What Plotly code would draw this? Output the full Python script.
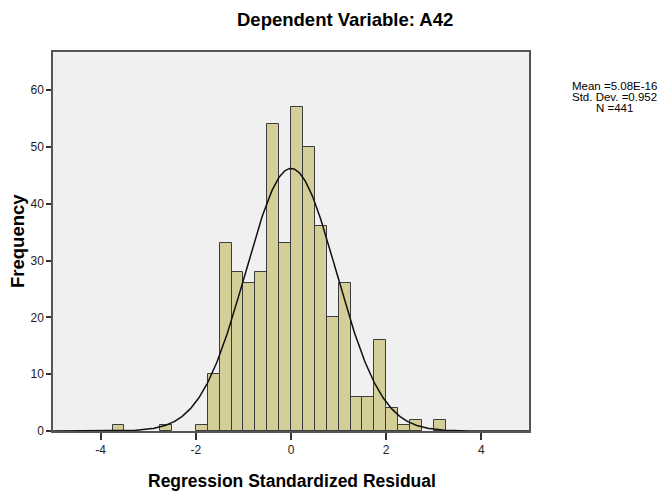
import numpy as np
import plotly.graph_objects as go

# Histogram bins (left edges, width 0.25) and counts
bin_left = [-3.75, -2.75, -2.0, -1.75, -1.5, -1.25, -1.0, -0.75, -0.5, -0.25,
            0.0, 0.25, 0.5, 0.75, 1.0, 1.25, 1.5, 1.75, 2.0, 2.25, 2.5, 3.0]
counts = [1, 1, 1, 10, 33, 28, 26, 28, 54, 33,
          57, 50, 36, 20, 26, 6, 6, 16, 4, 1, 2, 2]
bin_width = 0.25

mean_val = 5.08e-16
std_val = 0.952
n_val = 441
stats_lines = ["Mean =5.08E-16", "Std. Dev. =0.952", f"N ={n_val}"]

x_ticks = [-4, -2, 0, 2, 4]
y_ticks = [0, 10, 20, 30, 40, 50, 60]

centers = [b + bin_width / 2 for b in bin_left]

# Normal curve from the stated statistics
xc = np.linspace(-5, 5, 400)
yc = n_val * bin_width * np.exp(-0.5 * ((xc - mean_val) / std_val) ** 2) / (std_val * np.sqrt(2 * np.pi))

fig = go.Figure()
fig.add_trace(go.Bar(
    x=centers, y=counts, width=bin_width,
    marker=dict(color="#d4cf98", line=dict(color="#3c3c3c", width=1)),
    showlegend=False, hoverinfo="skip"))
fig.add_trace(go.Scatter(
    x=xc, y=yc, mode="lines", line=dict(color="#111111", width=1.5),
    showlegend=False, hoverinfo="skip"))

font_family = "Liberation Sans, Arial, sans-serif"

L, R, T, B = 53, 529, 52, 431
PW, PH = R - L, B - T

annotations = [
    dict(text="<b>Dependent Variable: A42</b>", xref="paper", yref="paper",
         x=(345 - L) / PW, y=1 + (T - 19) / PH, xanchor="center", yanchor="middle",
         showarrow=False, font=dict(size=18.5, color="#000000", family=font_family)),
    dict(text="<b>Regression Standardized Residual</b>", xref="paper", yref="paper",
         x=(292 - L) / PW, y=-(481 - B) / PH, xanchor="center", yanchor="middle",
         showarrow=False, font=dict(size=17.5, color="#000000", family=font_family)),
    dict(text="<b>Frequency</b>", xref="paper", yref="paper",
         x=-(L - 17) / PW, y=(B - 241) / PH, xanchor="center", yanchor="middle",
         textangle=-90, showarrow=False,
         font=dict(size=18.5, color="#000000", family=font_family)),
]
for i, line in enumerate(stats_lines):
    annotations.append(dict(
        text=line, xref="paper", yref="paper",
        x=1 + (614 - R) / PW, y=(B - (86 + 11 * i)) / PH,
        xanchor="center", yanchor="middle", showarrow=False,
        font=dict(size=11.5, color="#000000", family=font_family)))

fig.update_layout(
    width=658, height=493,
    margin=dict(l=L, r=658 - R, t=T, b=493 - B),
    paper_bgcolor="white", plot_bgcolor="#f0f0f0",
    font=dict(family=font_family, size=12, color="#222222"),
    bargap=0,
    xaxis=dict(range=[-5, 5], tickvals=x_ticks, ticktext=[str(v) for v in x_ticks],
               showgrid=False, zeroline=False, showline=True, mirror=True,
               linecolor="#555555", linewidth=1.5,
               ticks="outside", ticklen=7, tickcolor="#333333", tickwidth=1.5,
               tickfont=dict(size=12, color="#222222")),
    yaxis=dict(range=[0, 66.7], tickvals=y_ticks, ticktext=[str(v) for v in y_ticks],
               showgrid=False, zeroline=False, showline=True, mirror=True,
               linecolor="#555555", linewidth=1.5,
               ticks="outside", ticklen=5, tickcolor="#333333", tickwidth=1.5,
               tickfont=dict(size=12, color="#222222")),
    annotations=annotations,
)

fig.write_html("out.html", config={"displayModeBar": False},
               post_script="document.body.style.margin='0';document.body.style.overflow='hidden';")
